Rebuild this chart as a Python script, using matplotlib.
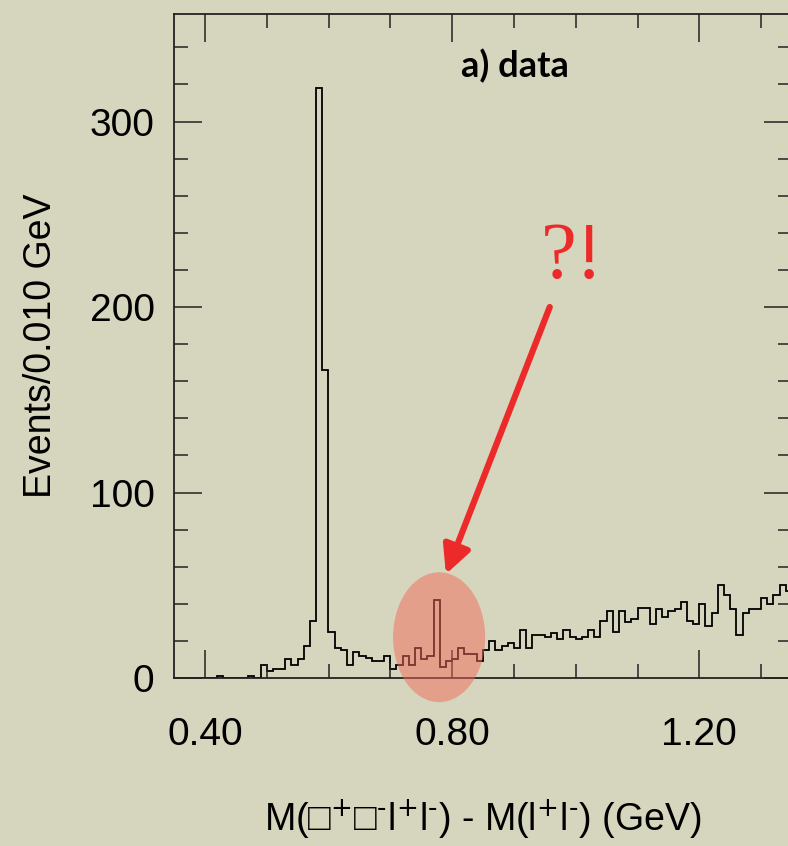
import numpy as np
import matplotlib
matplotlib.use('Agg')
import matplotlib.pyplot as plt
from matplotlib.patches import Ellipse
from matplotlib.ticker import MultipleLocator

plt.rcParams['font.family'] = ['Liberation Sans', 'DejaVu Sans']

# histogram: 0.010 GeV bins starting at 0.35 GeV
bin_start = 0.35
bin_width = 0.01
counts = [0, 0, 0, 0, 0, 0, 0, 1, 0, 0,
          0, 0, 1, 0, 7, 4, 5, 5, 10, 7,
          10, 17, 31, 318, 166, 25, 16, 15, 7, 14,
          12, 11, 9, 9, 12, 5, 7, 12, 7, 16,
          10, 12, 42, 6, 9, 10, 16, 13, 13, 9,
          15, 20, 15, 17, 19, 16, 26, 16, 23, 23,
          22, 24, 21, 26, 22, 21, 22, 26, 22, 31,
          36, 25, 36, 30, 32, 38, 38, 29, 37, 33,
          36, 37, 41, 31, 29, 40, 28, 35, 50, 45,
          37, 23, 35, 37, 37, 43, 40, 45, 50, 47]

xticks = [0.40, 0.80, 1.20]
xtick_labels = ['0.40', '0.80', '1.20']
yticks = [0, 100, 200, 300]

edges = bin_start + bin_width * np.arange(len(counts) + 1)

bg = '#d6d5bd'
fig = plt.figure(figsize=(7.88, 8.46), dpi=100, facecolor=bg)
ax = fig.add_axes([174/788, 1 - 678/846, 618/788, 664/846])
ax.set_facecolor(bg)

ax.stairs(counts, edges, color='black', lw=1.3)

ax.set_xlim(0.35, 1.35)
ax.set_ylim(0, 358)
ax.set_xticks(xticks)
ax.set_xticklabels(xtick_labels)
ax.set_yticks(yticks)
ax.xaxis.set_minor_locator(MultipleLocator(0.1))
ax.yaxis.set_minor_locator(MultipleLocator(20))
ax.tick_params(which='both', direction='in', top=True, right=True, width=1.1, color='#222222')
ax.tick_params(which='major', length=20, labelsize=28)
ax.tick_params(which='minor', length=10)
ax.tick_params(axis='x', pad=28)
ax.tick_params(axis='y', pad=14)
for s in ax.spines.values():
    s.set_linewidth(1.3)
    s.set_color('#222222')

ax.set_ylabel('Events/0.010 GeV', fontsize=27, labelpad=22)
# the pion symbols are missing glyphs in the original, shown as empty boxes
ax.set_xlabel('M(□$^{+}$□$^{\\text{-}}$l$^{+}$l$^{\\text{-}}$) - M(l$^{+}$l$^{\\text{-}}$) (GeV)',
              fontsize=27, labelpad=32)

ax.text(0.902, 330, 'a) data', fontsize=26, fontweight='bold', family='Lato', ha='center', va='center')

# highlight around the spike near 0.775
ell = Ellipse((0.779, 22), 0.149, 70, facecolor='#f26b5b', alpha=0.5, edgecolor='none', clip_on=False, zorder=5)
ax.add_patch(ell)

ax.text(0.994, 226, '?!', fontsize=58, color='#ec2a2a', family='Liberation Serif', ha='center', va='center')
ax.annotate('', xy=(0.790, 56), xytext=(0.958, 200),
            arrowprops=dict(arrowstyle='-|>', color='#ec2a2a', lw=4.5, mutation_scale=42, shrinkA=0, shrinkB=0),
            annotation_clip=False)

fig.savefig('out.png', dpi=100, facecolor=bg)
